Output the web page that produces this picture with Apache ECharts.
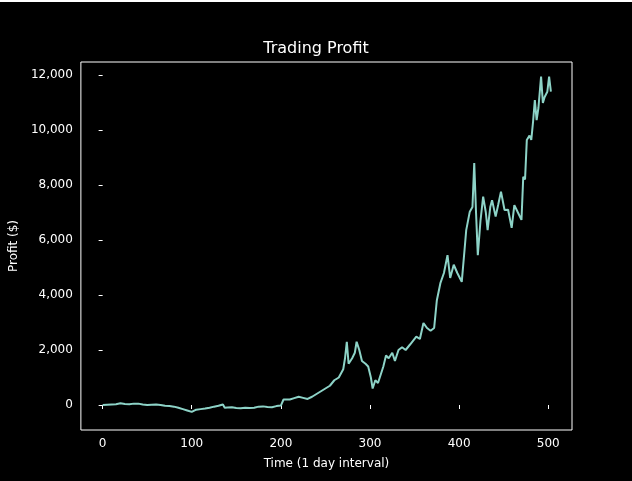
<!DOCTYPE html>
<html><head><meta charset="utf-8">
<script src="https://cdn.jsdelivr.net/npm/echarts@6/dist/echarts.min.js"></script>
<style>html,body{margin:0;padding:0;background:#000}#c{width:632px;height:481px}#t{position:absolute;left:0;top:0;width:632px;height:2px;background:#fff}</style>
</head><body><div id="c"></div><div id="t"></div>
<script>
const days=[0,5,10,15,20,25,30,35,40,45,50,55,60,65,70,75,80,85,90,95,100,105,110,115,120,125,130,135,137,140,145,150,155,160,165,170,175,180,185,190,195,200,203,205,210,215,220,225,230,235,240,245,250,255,260,265,270,272,274,276,280,283,285,288,291,295,298,301,303,306,309,312,315,318,321,325,328,332,336,340,345,352,356,360,364,368,372,375,379,383,387,390,394,398,403,406,408,412,415,417,419,421,424,427,430,432,435,437,441,444,447,451,455,459,462,466,470,472,474,476,479,481,483,485,487,489,492,494,496,499,501,503];
const profit=[0,10,20,30,60,40,30,50,50,20,0,10,20,0,-30,-40,-60,-100,-150,-200,-250,-170,-150,-130,-100,-60,-30,20,-100,-90,-80,-110,-120,-100,-110,-100,-60,-50,-70,-80,-40,-20,200,250,200,250,300,260,220,300,400,500,600,700,900,1000,1300,1700,2300,1500,1700,1900,2300,2000,1600,1500,1400,1000,600,900,800,1100,1400,1800,1700,1900,1600,2000,2100,2000,2200,2485,2400,2980,2800,2700,2800,3800,4430,4800,5450,4620,5100,4800,4480,5600,6360,7030,7200,8800,7000,5450,6700,7580,7000,6360,7200,7450,6850,7300,7760,7090,7100,6440,7270,7000,6730,8300,8200,9640,9800,9640,10300,11090,10360,10800,11940,10980,11200,11390,11940,11400];
const xTicks=[0,100,200,300,400,500];
const yTicks=[0,2000,4000,6000,8000,10000,12000];
const c=echarts.init(document.getElementById('c'));
const txt={color:'#fff',fontFamily:'DejaVu Sans',fontSize:12};
c.setOption({
 backgroundColor:'#000',animation:false,
 title:{text:'Trading Profit',left:'center',top:36,textStyle:{color:'#fff',fontFamily:'DejaVu Sans',fontSize:16,fontWeight:'normal'}},
 grid:{left:76,right:60,top:62,bottom:51,show:true,borderColor:'#fff',borderWidth:1},
 xAxis:{type:'value',min:-24.4,max:526.7,name:'Time (1 day interval)',nameLocation:'middle',nameGap:28,nameTextStyle:txt,
  axisLine:{show:false},splitLine:{show:false},
  axisTick:{show:true,length:4,lineStyle:{color:'#fff'},customValues:xTicks},
  axisLabel:Object.assign({customValues:xTicks,margin:8},txt)},
 yAxis:{type:'value',min:-909,max:12473,name:'Profit ($)',nameLocation:'middle',nameGap:58,nameTextStyle:txt,
  axisLine:{show:false},splitLine:{show:false},
  axisTick:{show:true,length:4,lineStyle:{color:'#fff'},customValues:yTicks},
  axisLabel:Object.assign({customValues:yTicks,margin:8},txt)},
 series:[{type:'line',data:days.map((d,i)=>[d,profit[i]]),showSymbol:false,lineStyle:{color:'#8dd3c7',width:2}}]
});
</script></body></html>
